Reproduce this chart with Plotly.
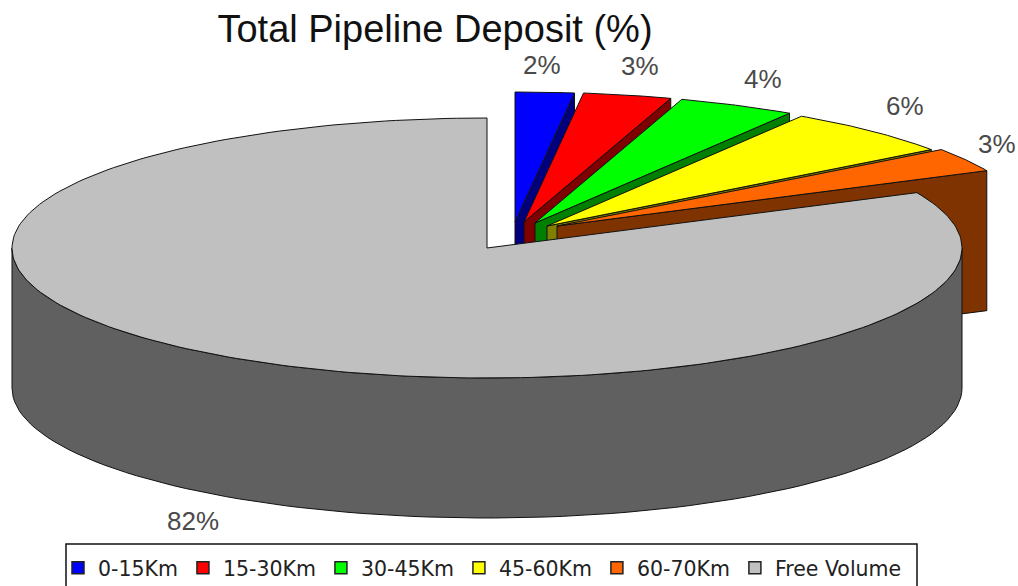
import numpy as np
import plotly.graph_objects as go

# ---- data ----
categories = ["0-15Km", "15-30Km", "30-45Km", "45-60Km", "60-70Km", "Free Volume"]
values = [2, 3, 4, 6, 3, 82]

# ---- styles and layout ----
top_colors = ["#0000FF", "#FF0000", "#00FF00", "#FFFF00", "#FF6600", "#C0C0C0"]
wall_colors = ["#00007F", "#7F0000", "#007F00", "#7F7F00", "#7F3300", "#606060"]
explode_dx = [28, 37, 48, 60, 70, 0]
explode_dy = [-26, -26, -25, -22, -22, 0]
label_x = [542, 640, 763, 905, 997, 193]
label_y = [65, 66, 79, 106, 144, 521]
CX, CY, RX, RY, DEPTH = 487, 248, 475, 130, 140
EDGE = "#111111"


def arc(a0, a1, dx=0, dy=0, n=90):
    t = np.radians(np.linspace(a0, a1, n))
    return CX + dx + RX * np.sin(t), CY + dy - RY * np.cos(t)


def poly(xs, ys, fill, name):
    return go.Scatter(
        x=list(xs), y=list(ys), mode="lines", fill="toself", fillcolor=fill,
        line=dict(color=EDGE, width=1), name=name, showlegend=False, hoverinfo="skip",
    )


fig = go.Figure()
edges = np.concatenate([[0], np.cumsum(values)]) * 3.6
n = len(values)

# exploded slices, back to front: trailing wall, then top face
for i in range(n - 1):
    a0, a1 = edges[i], edges[i + 1]
    dx, dy = explode_dx[i], explode_dy[i]
    ax, ay = CX + dx, CY + dy
    ex, ey = arc(a1, a1, dx, dy, 1)
    fig.add_trace(poly([ax, ex[0], ex[0], ax, ax],
                       [ay, ey[0], ey[0] + DEPTH, ay + DEPTH, ay],
                       wall_colors[i], categories[i] + " wall"))
    xs, ys = arc(a0, a1, dx, dy, 30)
    fig.add_trace(poly(np.r_[ax, xs, ax], np.r_[ay, ys, ay], top_colors[i], categories[i]))

# large slice: rim then top face
rx, ry = arc(90, 270)
fig.add_trace(poly(np.r_[rx, rx[::-1], rx[0]], np.r_[ry, ry[::-1] + DEPTH, ry[0]],
                   wall_colors[-1], categories[-1] + " rim"))
xs, ys = arc(edges[-2], edges[-1], n=240)
fig.add_trace(poly(np.r_[CX, xs, CX], np.r_[CY, ys, CY], top_colors[-1], categories[-1]))

# legend entries
for c, col in zip(categories, top_colors):
    fig.add_trace(go.Scatter(
        x=[None], y=[None], mode="markers", name=c,
        marker=dict(symbol="square", size=12, color=col, line=dict(color="#222222", width=1.5)),
        hoverinfo="skip",
    ))

annotations = [
    dict(x=x, y=y, text=f"{v}%", showarrow=False, xref="x", yref="y",
         font=dict(family="Liberation Sans, Arial, sans-serif", size=26, color="#4a4a4a"))
    for x, y, v in zip(label_x, label_y, values)
]

fig.update_layout(
    width=1018, height=586, margin=dict(l=0, r=0, t=0, b=0, autoexpand=False),
    paper_bgcolor="white", plot_bgcolor="white",
    title=dict(text="Total Pipeline Deposit (%)", x=435 / 1018, y=1 - 29 / 586,
               xanchor="center", yanchor="middle",
               font=dict(family="Liberation Sans, Arial, sans-serif", size=38, color="#111111")),
    xaxis=dict(range=[0, 1018], visible=False, fixedrange=True),
    yaxis=dict(range=[586, 0], visible=False, fixedrange=True),
    annotations=annotations,
    shapes=[dict(type="rect", xref="paper", yref="paper", x0=66 / 1018, x1=917 / 1018,
                 y0=-0.1, y1=1 - 544 / 586, line=dict(color="#111111", width=1.5),
                 fillcolor="white", layer="below")],
    legend=dict(orientation="h", x=58 / 1018, xanchor="left", y=1 - 548 / 586, yanchor="top",
                traceorder="normal",
                bgcolor="rgba(0,0,0,0)", itemclick=False, itemdoubleclick=False,
                font=dict(family="DejaVu Sans", size=20.5, color="#222222")),
    showlegend=True,
)

fig.write_html("out.html", post_script="document.body.style.margin='0';",
               config=dict(displayModeBar=False))
